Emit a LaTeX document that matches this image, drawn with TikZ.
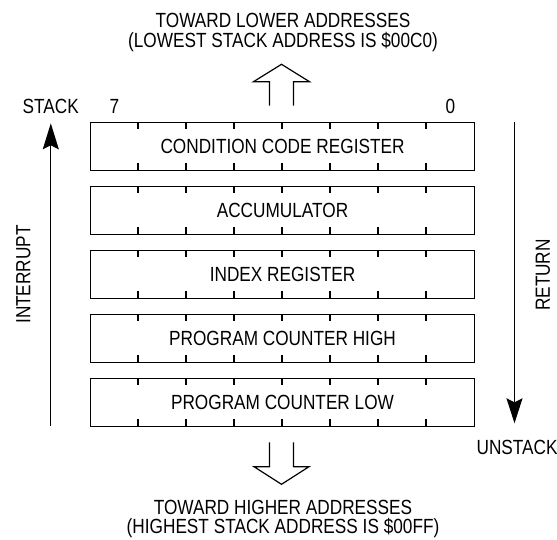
\documentclass[tikz,border=0pt]{standalone}
\usepackage{fontspec}
\setmainfont{Liberation Sans}[FakeStretch=0.84]
\usepackage{tikz}
\usetikzlibrary{arrows.meta}

\begin{document}
\begin{tikzpicture}[x=1pt,y=-1pt,line width=1.2pt,
  every node/.style={font=\fontsize{20.5}{20.5}\selectfont},
  reg/.style={draw,minimum width=384pt,minimum height=48pt,inner sep=0pt},
  lbl/.style={anchor=base,inner sep=0pt}]
  \useasboundingbox (0,0) rectangle (557,540);

  \node[lbl](lowtxt) at (283,27.7) {TOWARD LOWER ADDRESSES};
  \node[lbl](lowaddr) at (283,47.7) {(LOWEST STACK ADDRESS IS \$00C0)};

  \node[lbl,anchor=base west](stk) at (22,113.5) {STACK};
  \node[lbl](b7) at (114.5,113.5) {7};
  \node[lbl](b0) at (450.5,113.5) {0};

  \node[reg](ccr) at (282.5,146.2) {CONDITION CODE REGISTER};
  \node[reg](acc) at (282.5,210.2) {ACCUMULATOR};
  \node[reg](ix) at (282.5,274.2) {INDEX REGISTER};
  \node[reg](pch) at (282.5,338.2) {PROGRAM COUNTER HIGH};
  \node[reg](pcl) at (282.5,402.2) {PROGRAM COUNTER LOW};

  % bit ticks
  \foreach \r in {ccr,acc,ix,pch,pcl}
    \foreach \i in {1,...,7} {
      \draw ([xshift=\i*48pt]\r.north west) -- ++(0,7.5);
      \draw ([xshift=\i*48pt]\r.south west) -- ++(0,-7.5);
    }

  % interrupt / return
  \coordinate(intbot) at (50.8,426);
  \coordinate(inttop) at (50.8,123.3);
  \draw[-{Stealth[length=26pt,width=16pt,inset=4pt]}] (intbot) -- (inttop);
  \node[rotate=90](intr) at (23.5,274.5) {INTERRUPT};

  \coordinate(rettop) at (514.5,122.3);
  \coordinate(retbot) at (514.5,423.3);
  \draw[-{Stealth[length=25pt,width=16pt,inset=4pt]}] (rettop) -- (retbot);
  \node[rotate=90](ret) at (543,275) {RETURN};
  \node[lbl,anchor=base west](unstk) at (476,454.3) {UNSTACK};

  % hollow arrows
  \coordinate(upb) at (281.5,105.7);
  \draw (upb) ++(-12,0) -- ++(0,-24) -- ++(-16,0) -- ++(28,-17.4)
    -- ++(28,17.4) -- ++(-16,0) -- ++(0,24);
  \coordinate(dnt) at (281.5,442.3);
  \draw (dnt) ++(-12,0) -- ++(0,24.4) -- ++(-15.5,0) -- ++(27.5,17.6)
    -- ++(27.5,-17.6) -- ++(-15.5,0) -- ++(0,-24.4);

  \node[lbl](hightxt) at (283,514.3) {TOWARD HIGHER ADDRESSES};
  \node[lbl](highaddr) at (283,533.8) {(HIGHEST STACK ADDRESS IS \$00FF)};

\end{tikzpicture}
\end{document}
